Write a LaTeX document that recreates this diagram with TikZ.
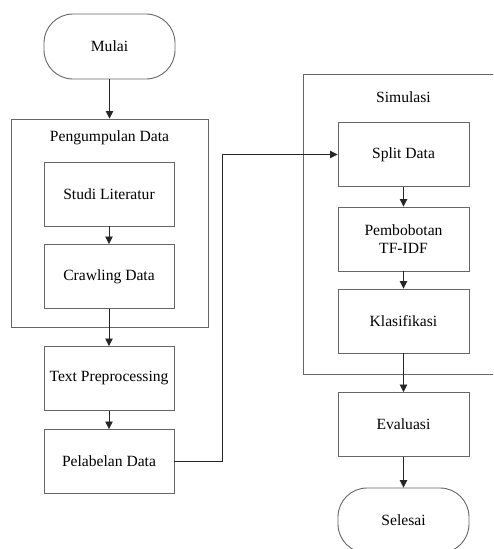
\documentclass[tikz,border=0pt]{standalone}
\usepackage{fontspec}
\setmainfont{Liberation Serif}
\usetikzlibrary{arrows.meta}
\begin{document}
\begin{tikzpicture}[x=1pt,y=-1pt,
  every node/.style={font=\fontsize{15.6}{18}\selectfont},
  procbox/.style={draw=black!60, line width=0.9pt, minimum width=130pt, minimum height=64pt, inner sep=0pt, align=center},
  termbox/.style={draw=black!60, line width=0.9pt, minimum width=131pt, minimum height=65pt, inner sep=0pt, rounded corners=29pt},
  groupbox/.style={draw=black!60, line width=0.9pt, inner sep=0pt},
  flow/.style={draw=black!85, line width=0.8pt, -{Triangle[length=7.5pt,width=7.5pt]}}]
\useasboundingbox (0,0) rectangle (493,549);
\clip (0,0) rectangle (493,549);
% groups
\node[groupbox, minimum width=197pt, minimum height=208pt] (peng) at (109.5,223) {};
\node (pengt) at (109.5,138) {Pengumpulan Data};
\node[groupbox, minimum width=230pt, minimum height=300pt] (sim) at (418,224) {};
\node (simt) at (403.5,97) {Simulasi};
% left column
\node[termbox] (mulai) at (109.5,46.5) {Mulai};
\node[procbox] (studi) at (109,194) {Studi Literatur};
\node[procbox] (crawl) at (109,276.5) {Crawling Data};
\node[procbox] (prep) at (109,378.5) {Text Preprocessing};
\node[procbox] (label) at (109,461.5) {Pelabelan Data};
% right column
\node[procbox, minimum width=131pt] (split) at (403.5,154.5) {Split Data};
\node[procbox, minimum width=131pt] (bobot) at (403.5,239) {Pembobotan\\TF-IDF};
\node[procbox, minimum width=131pt] (klas) at (403.5,321) {Klasifikasi};
\node[procbox, minimum width=131pt] (eval) at (403.5,424.5) {Evaluasi};
\node[termbox] (selesai) at (403.5,520.5) {Selesai};
% connectors
\draw[flow] (mulai) -- (mulai |- peng.north);
\draw[flow] (studi) -- (crawl);
\draw[flow] (crawl) -- (prep);
\draw[flow] (prep) -- (label);
\coordinate (turn) at (222,0);
\draw[flow] (label.east) -- (label.east -| turn) -- (turn |- split.west) -- (split.west);
\draw[flow] (split) -- (bobot);
\draw[flow] (bobot) -- (klas);
\draw[flow] (klas) -- (eval);
\draw[flow] (eval) -- (selesai);
\end{tikzpicture}
\end{document}
